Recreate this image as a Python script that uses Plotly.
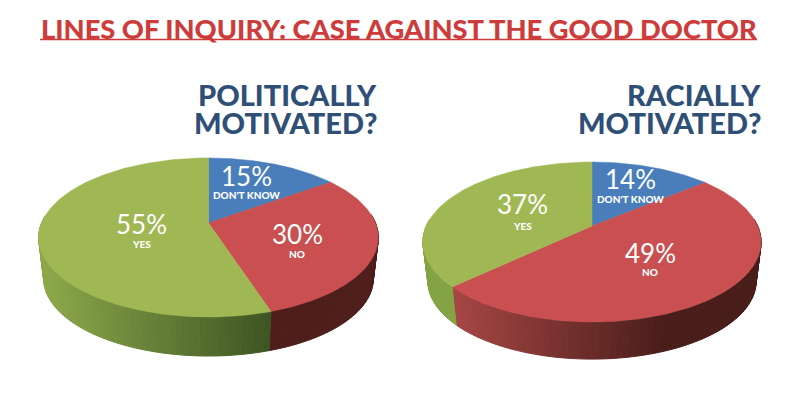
import numpy as np
import plotly.graph_objects as go

TITLE = "LINES OF INQUIRY: CASE AGAINST THE GOOD DOCTOR"
categories = ["DON'T KNOW", "NO", "YES"]
political_values = [15, 30, 55]
racial_values = [14, 49, 37]
political_heading = ["POLITICALLY", "MOTIVATED?"]
racial_heading = ["RACIALLY", "MOTIVATED?"]

TOP = {"DON'T KNOW": "#4a7ebb", "NO": "#c94f50", "YES": "#a0b853"}
NAVY = "#2f4f77"
RED = "#cd3c3b"


def lerp(c1, c2, t):
    t = min(max(t, 0), 1)
    return "rgb(%d,%d,%d)" % tuple(round(a + (b - a) * t) for a, b in zip(c1, c2))


def rim(theta, g):
    a, b = np.sin(theta), np.cos(theta)
    d = 1 + g["k"] * b
    return g["cx"] + g["R"] * a / d, g["cy"] - g["S"] * b / d


def base(x, y, g):
    return g["cx"] + (x - g["cx"]) * 0.97, g["yc"] + g["dy"] + (y - g["yc"]) * 0.97


def add_pie(fig, values, g, shade):
    total = sum(values)
    edges = np.cumsum([0] + values) / total * 2 * np.pi
    # side wall first, split into narrow strips for the gradient
    for cat, t0, t1 in zip(categories, edges[:-1], edges[1:]):
        n = max(int((t1 - t0) / 0.03), 2)
        ts = np.linspace(t0, t1, n + 1)
        for s0, s1 in zip(ts[:-1], ts[1:]):
            if np.cos((s0 + s1) / 2) > 0.1:
                continue
            arc = np.linspace(s0, s1, 3)
            x, y = rim(arc, g)
            bx, by = base(x, y, g)
            col = shade[cat](float(x.mean()))
            fig.add_trace(go.Scatter(
                x=np.r_[x, bx[::-1], x[0]], y=np.r_[y, by[::-1], y[0]],
                mode="lines", fill="toself", fillcolor=col,
                line=dict(color=col, width=1), hoverinfo="skip"))
    # top face
    for cat, t0, t1 in zip(categories, edges[:-1], edges[1:]):
        arc = np.linspace(t0, t1, 160)
        x, y = rim(arc, g)
        fig.add_trace(go.Scatter(
            x=np.r_[g["cx"], x, g["cx"]], y=np.r_[g["cy"], y, g["cy"]],
            mode="lines", fill="toself", fillcolor=TOP[cat],
            line=dict(color=TOP[cat], width=0.5), name=cat, hoverinfo="skip"))


fig = go.Figure()

left = dict(cx=208.5, cy=223, R=167, S=76.9, k=0.182, yc=237.5, dy=41.4)
right = dict(cx=592, cy=226, R=165.7, S=76.8, k=0.2, yc=242, dy=39.5)

add_pie(fig, political_values, left, {
    "DON'T KNOW": lambda x: "#3a6390",
    "NO": lambda x: "#4e1e1b",
    "YES": lambda x: lerp((140, 168, 74), (62, 84, 35), (x - 45) / 225),
})
add_pie(fig, racial_values, right, {
    "DON'T KNOW": lambda x: "#3a6390",
    "NO": lambda x: lerp((165, 70, 68), (72, 29, 26), (x - 453) / 215),
    "YES": lambda x: "#84a344",
})


def note(x, y, text, size, color="white", anchor="center", weight=400, family="Lato"):
    fig.add_annotation(x=x, y=y, text=text, showarrow=False, xref="x", yref="y",
                       xanchor=anchor, yanchor="middle", align=anchor,
                       font=dict(family=family, size=size, color=color, weight=weight))


note(399, 28, TITLE, 27.3, RED, weight=900)
fig.add_shape(type="line", x0=40, x1=757, y0=39.5, y1=39.5, xref="x", yref="y",
              line=dict(color=RED, width=1.6))

note(378.5, 94.5, political_heading[0], 29, NAVY, "right", 900)
note(378.5, 122.5, political_heading[1], 29, NAVY, "right", 900)
note(762.5, 94.5, racial_heading[0], 29, NAVY, "right", 900)
note(762.5, 122.5, racial_heading[1], 29, NAVY, "right", 900)

pct_pos_left = {"DON'T KNOW": (246, 175.5, 195), "NO": (297, 234, 254), "YES": (141, 224, 244)}
pct_pos_right = {"DON'T KNOW": (630, 179, 199), "NO": (650, 253, 272), "YES": (522, 204, 226)}
for vals, pos in ((political_values, pct_pos_left), (racial_values, pct_pos_right)):
    for cat, v in zip(categories, vals):
        x, y1, y2 = pos[cat]
        note(x, y1, f"{v}%", 26, weight=400)
        note(x, y2, cat, 10, weight=900)

fig.update_layout(
    width=798, height=405, autosize=False, showlegend=False,
    margin=dict(l=0, r=0, t=0, b=0),
    paper_bgcolor="white", plot_bgcolor="white",
    xaxis=dict(range=[0, 798], visible=False, fixedrange=True),
    yaxis=dict(range=[405, 0], visible=False, fixedrange=True),
)
fig.write_html("out.html", config={"displayModeBar": False},
               post_script="document.body.style.margin='0';document.body.style.overflow='hidden';")
